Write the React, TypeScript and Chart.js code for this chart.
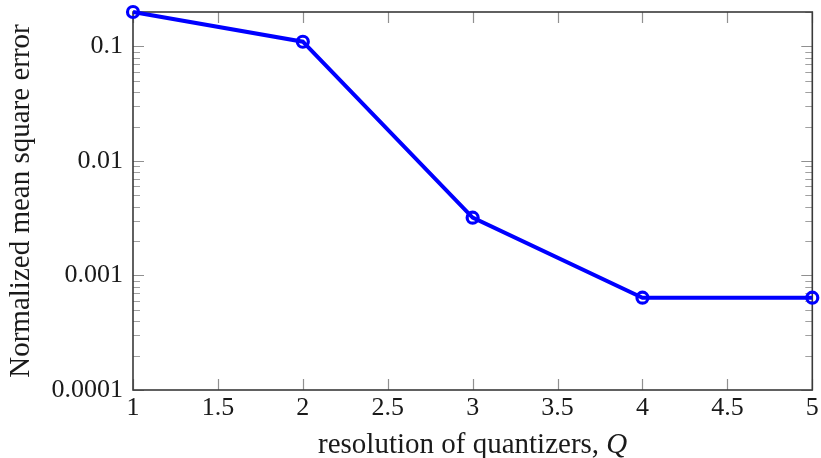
import React, { useEffect, useRef } from "react";
import { Chart, registerables } from "chart.js";

Chart.register(...registerables);

const xValues = [1, 2, 3, 4, 5];
const nmse = [0.2, 0.11, 0.0032, 0.00064, 0.00064];
const xTickValues = [1, 1.5, 2, 2.5, 3, 3.5, 4, 4.5, 5];
const yTickValues = [0.0001, 0.001, 0.01, 0.1];
const yTickLabels = ["0.0001", "0.001", "0.01", "0.1"];
const yMinorMultipliers = [2, 3, 4, 5, 6, 7, 8, 9];
const xTitleMain = "resolution of quantizers, ";
const xTitleVar = "Q";
const yTitle = "Normalized mean square error";

const FONT = "'Liberation Serif', 'Times New Roman', serif";
const FONT_SIZE = 26;
const TITLE_SIZE = 29;

const framePlugin = {
  id: "pgfFrame",
  beforeDatasetsDraw(chart: any) {
    const { ctx, chartArea } = chart;
    const { left, right, top, bottom } = chartArea;
    const xs = chart.scales.x;
    const ys = chart.scales.y;
    ctx.save();
    ctx.strokeStyle = "#a0a0a0";
    ctx.lineWidth = 1;
    const minorLen = 7;
    const majorLen = 11;
    for (let d = 0; d < yTickValues.length; d++) {
      for (const m of yMinorMultipliers) {
        const v = yTickValues[d] * m;
        if (v > ys.max) continue;
        const y = Math.round(ys.getPixelForValue(v)) + 0.5;
        ctx.beginPath();
        ctx.moveTo(left, y);
        ctx.lineTo(left + minorLen, y);
        ctx.moveTo(right, y);
        ctx.lineTo(right - minorLen, y);
        ctx.stroke();
      }
    }
    ctx.strokeStyle = "#909090";
    ctx.lineWidth = 1.2;
    for (const v of yTickValues) {
      const y = Math.round(ys.getPixelForValue(v)) + 0.5;
      ctx.beginPath();
      ctx.moveTo(left, y);
      ctx.lineTo(left + majorLen, y);
      ctx.moveTo(right, y);
      ctx.lineTo(right - majorLen, y);
      ctx.stroke();
    }
    for (const v of xTickValues) {
      const x = Math.round(xs.getPixelForValue(v)) + 0.5;
      ctx.beginPath();
      ctx.moveTo(x, bottom);
      ctx.lineTo(x, bottom - majorLen);
      ctx.moveTo(x, top);
      ctx.lineTo(x, top + majorLen);
      ctx.stroke();
    }
    ctx.strokeStyle = "#3a3a3a";
    ctx.lineWidth = 1.6;
    ctx.strokeRect(left, top, right - left, bottom - top);
    ctx.restore();
  },
};

const titlePlugin = {
  id: "pgfTitles",
  afterDraw(chart: any) {
    const { ctx, chartArea } = chart;
    ctx.save();
    ctx.fillStyle = "#1a1a1a";
    ctx.textBaseline = "alphabetic";
    ctx.font = `${TITLE_SIZE}px ${FONT}`;
    const w1 = ctx.measureText(xTitleMain).width;
    ctx.font = `italic ${TITLE_SIZE}px ${FONT}`;
    const w2 = ctx.measureText(xTitleVar).width;
    const cx = (chartArea.left + chartArea.right) / 2;
    const x0 = cx - (w1 + w2) / 2;
    const yb = 453;
    ctx.font = `${TITLE_SIZE}px ${FONT}`;
    ctx.textAlign = "left";
    ctx.fillText(xTitleMain, x0, yb);
    ctx.font = `italic ${TITLE_SIZE}px ${FONT}`;
    ctx.fillText(xTitleVar, x0 + w1, yb);
    ctx.font = `${TITLE_SIZE}px ${FONT}`;
    ctx.translate(29, (chartArea.top + chartArea.bottom) / 2);
    ctx.rotate(-Math.PI / 2);
    ctx.textAlign = "center";
    ctx.fillText(yTitle, 0, 0);
    ctx.restore();
  },
};

export default function App() {
  const canvasRef = useRef<HTMLCanvasElement | null>(null);

  useEffect(() => {
    if (!canvasRef.current) return;
    const chart = new Chart(canvasRef.current, {
      type: "line",
      data: {
        datasets: [
          {
            data: xValues.map((x, i) => ({ x, y: nmse[i] })),
            borderColor: "#0000ff",
            backgroundColor: "rgba(0,0,0,0)",
            borderWidth: 4,
            pointRadius: 5.5,
            pointBorderWidth: 3.2,
            pointBorderColor: "#0000ff",
            pointBackgroundColor: "rgba(0,0,0,0)",
            pointHoverRadius: 5.5,
            tension: 0,
            clip: false as any,
          },
        ],
      },
      options: {
        animation: false,
        responsive: false,
        maintainAspectRatio: false,
        events: [],
        layout: { padding: { top: 12, right: 8, left: 0, bottom: 0 } },
        plugins: {
          legend: { display: false },
          tooltip: { enabled: false },
        },
        scales: {
          x: {
            type: "linear",
            min: 1,
            max: 5,
            afterBuildTicks: (scale: any) => {
              scale.ticks = xTickValues.map((v) => ({ value: v }));
            },
            afterFit: (scale: any) => {
              scale.height = 68;
              scale.paddingLeft = 0;
              scale.paddingRight = 0;
            },
            ticks: {
              color: "#1a1a1a",
              font: { family: FONT, size: FONT_SIZE },
              padding: 3,
              maxRotation: 0,
              autoSkip: false,
              callback: (v: any) => String(v),
            },
            grid: { display: false, drawTicks: false },
            border: { display: false },
          },
          y: {
            type: "logarithmic",
            min: 0.0001,
            max: 0.2,
            afterBuildTicks: (scale: any) => {
              scale.ticks = yTickValues.map((v) => ({ value: v }));
            },
            afterFit: (scale: any) => {
              scale.width = 133;
              scale.paddingTop = 0;
              scale.paddingBottom = 0;
            },
            ticks: {
              color: "#1a1a1a",
              font: { family: FONT, size: FONT_SIZE },
              padding: 10,
              autoSkip: false,
              callback: (v: any) => {
                const i = yTickValues.findIndex((t) => Math.abs(t - v) / t < 1e-6);
                return i >= 0 ? yTickLabels[i] : "";
              },
            },
            grid: { display: false, drawTicks: false },
            border: { display: false },
          },
        },
      },
      plugins: [framePlugin, titlePlugin],
    });
    return () => chart.destroy();
  }, []);

  return (
    <div style={{ position: "fixed", left: 0, top: 0, width: 821, height: 458, background: "#fff" }}>
      <canvas ref={canvasRef} width={821} height={458} style={{ width: 821, height: 458, display: "block" }} />
    </div>
  );
}
